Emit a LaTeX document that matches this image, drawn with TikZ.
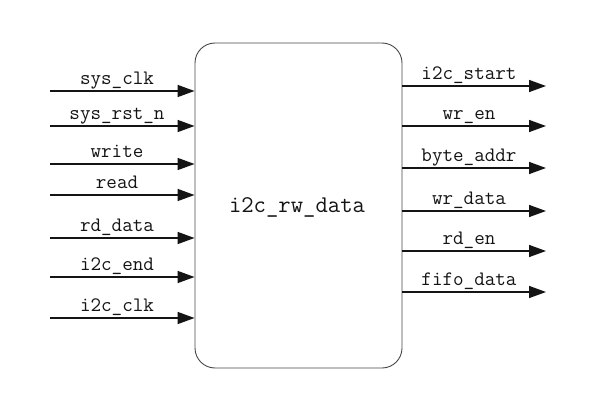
\documentclass[tikz,border=0pt]{standalone}
\usetikzlibrary{arrows.meta,positioning}
\definecolor{edge@rw}{RGB}{20, 20, 20}
\definecolor{frame@rw}{RGB}{70, 70, 70}

\begin{document}
\begin{tikzpicture}[x=1pt, y=-1pt, font=\ttfamily\fontsize{20.5}{20.5}\selectfont]
  \tikzstyle{module}=[draw=frame@rw, line width=0.9pt, rounded corners=20pt,
                      minimum width=207pt, minimum height=325pt, inner sep=0pt]
  \tikzstyle{sig_edge} = [draw, -{Triangle[length=17pt,width=12pt]}, edge@rw, line width=1.5pt]
  \tikzstyle{sig_label} = [anchor=base, inner sep=0pt, text=edge@rw]

  % constants
  \def \InX {50}
  \def \OutX {546}
  \def \Lift {6.5}

  \useasboundingbox (0,0) rectangle (597,409);

  % the module
  \node[module] (rw) at (298.5,205.5) {};
  \node[font=\ttfamily\fontsize{24}{24}\selectfont, text=edge@rw] (title) at (297,207) {i2c\_rw\_data};

  % inputs
  \foreach \y/\name/\txt in
      {
        91/sclk/sys\_clk,
        126/srst/sys\_rst\_n,
        164/wr/write,
        195/rd/read,
        238/rdat/rd\_data,
        277/iend/i2c\_end,
        318/iclk/i2c\_clk%
      }
      {
        \coordinate (\name) at (\InX,\y);
        \path[sig_edge] (\name) -- (\name -| rw.west);
        \node[sig_label] (\name-l) at (117,\y-\Lift) {\txt};
      }

  % outputs
  \foreach \y/\name/\txt in
      {
        86/istart/i2c\_start,
        126/wen/wr\_en,
        168/baddr/byte\_addr,
        211/wdat/wr\_data,
        251/ren/rd\_en,
        292/fdat/fifo\_data%
      }
      {
        \coordinate (\name) at (\OutX,\y);
        \path[sig_edge] (\name -| rw.east) -- (\name);
        \node[sig_label] (\name-l) at (469,\y-\Lift) {\txt};
      }

\end{tikzpicture}
\end{document}
